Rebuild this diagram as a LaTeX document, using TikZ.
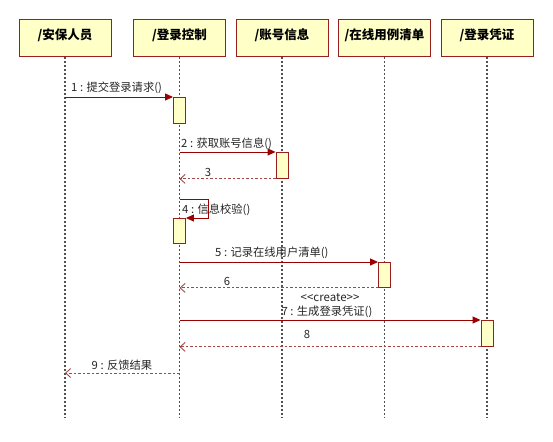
\documentclass[tikz,border=0pt]{standalone}
\usepackage{fontspec}
\setmainfont{Noto Sans CJK SC}
\usetikzlibrary{arrows.meta}
\definecolor{boxfill}{HTML}{FFFFC8}
\definecolor{boxline}{HTML}{9A1E1E}
\definecolor{msgcol}{HTML}{990000}
\definecolor{retcol}{HTML}{A04848}
\definecolor{lifecol}{HTML}{505050}
\tikzset{
  objbox/.style={draw=boxline, fill=boxfill, line width=1pt, minimum width=92pt, minimum height=37pt, inner sep=0pt, font=\fontsize{12.5}{14}\selectfont\bfseries, anchor=north, text depth=0pt, align=center},
  lifeline/.style={draw=lifecol, line width=1.1pt, dash pattern=on 2pt off 2pt},
  actbar/.style={draw=boxline, fill=boxfill, line width=0.9pt, minimum width=12pt, inner sep=0pt, anchor=north},
  msg/.style={draw=msgcol, line width=0.9pt, -{Triangle[length=8pt,width=7pt]}, fill=none},
  ret/.style={draw=retcol, line width=0.9pt, dash pattern=on 2.5pt off 2pt, -{Straight Barb[length=5pt,width=9pt,line width=0.9pt]}},
  lbl/.style={font=\fontsize{11.3}{13}\selectfont, inner sep=0pt, text=black!85}
}
\begin{document}
\begin{tikzpicture}[x=1pt,y=-1pt]
\useasboundingbox (0,0) rectangle (553,441);
% object boxes
\node[objbox] (a) at (65,19) {\raisebox{8pt}{/安保人员}};
\node[objbox] (b) at (179.5,19) {\raisebox{8pt}{/登录控制}};
\node[objbox] (c) at (282,19) {\raisebox{8pt}{/账号信息}};
\node[objbox] (d) at (384.5,19) {\raisebox{8pt}{/在线用例清单}};
\node[objbox] (e) at (487,19) {\raisebox{8pt}{/登录凭证}};
% lifeline ends
\coordinate (aend) at (a.south |- 0,418);
\coordinate (bend) at (b.south |- 0,418);
\coordinate (cend) at (c.south |- 0,418);
\coordinate (dend) at (d.south |- 0,418);
\coordinate (eend) at (e.south |- 0,418);
\draw[lifeline] (a.south) -- (aend);
\draw[lifeline] (b.south) -- (bend);
\draw[lifeline] (c.south) -- (cend);
\draw[lifeline] (d.south) -- (dend);
\draw[lifeline] (e.south) -- (eend);
% activations
\node[actbar, minimum height=26pt] (act1) at (b.south |- 0,97) {};
\node[actbar, minimum height=26pt] (act2) at (c.south |- 0,152) {};
\node[actbar, minimum height=25pt] (act3) at (b.south |- 0,218) {};
\node[actbar, minimum height=25pt] (act4) at (d.south |- 0,262) {};
\node[actbar, minimum height=26pt] (act5) at (e.south |- 0,320) {};
% messages
\draw[msg] (a.south |- act1.north) -- (act1.north west);
\node[lbl, anchor=west] (l1) at (71,88) {1 : 提交登录请求()};
\draw[msg] (b.south |- act2.north) -- (act2.north west);
\node[lbl, anchor=west] (l2) at (181,144) {2 : 获取账号信息()};
\draw[ret] (act2.south west) -- (b.south |- act2.south);
\node[lbl] (l3) at (208,172) {3};
\coordinate (s4) at (208,199);
\draw[msg] (b.south |- s4) -- (s4) |- (act3.north east);
\node[lbl, anchor=west] (l4) at (182,210) {4 : 信息校验()};
\draw[msg] (b.south |- act4.north) -- (act4.north west);
\node[lbl, anchor=west] (l5) at (215,253) {5 : 记录在线用户清单()};
\draw[ret] (act4.south west) -- (b.south |- act4.south);
\node[lbl] (l6) at (227,281) {6};
\node[lbl, font=\fontsize{11.5}{13}\selectfont] (cr) at (330,298) {{<}{<}create{>}{>}};
\draw[msg] (b.south |- act5.north) -- (act5.north west);
\node[lbl] (l7) at (327,312) {7 : 生成登录凭证()};
\draw[ret] (act5.south west) -- (b.south |- act5.south);
\node[lbl] (l8) at (307,334) {8};
\coordinate (m9) at (0,373);
\draw[ret] (b.south |- m9) -- (a.south |- m9);
\node[lbl] (l9) at (122,365) {9 : 反馈结果};
\end{tikzpicture}
\end{document}
